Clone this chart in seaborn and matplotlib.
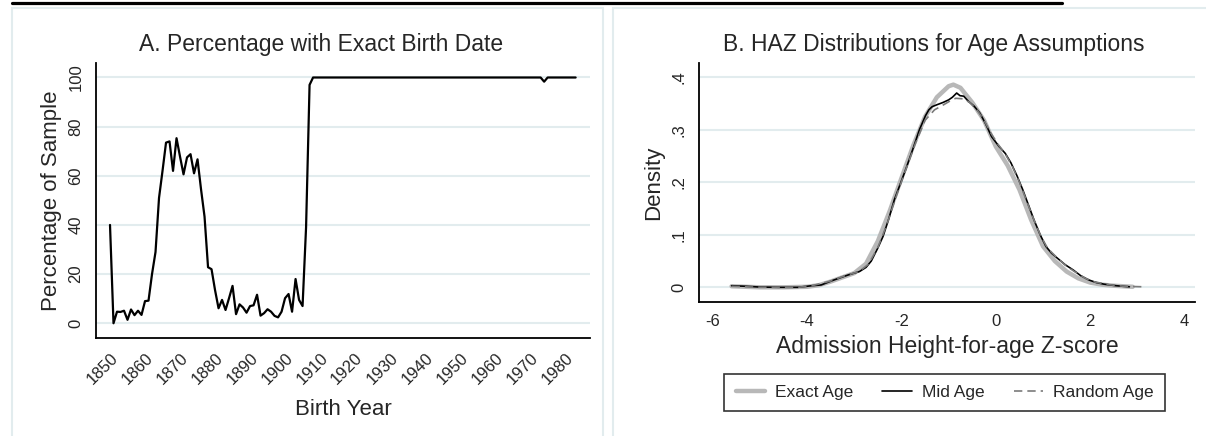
import numpy as np
import pandas as pd
import matplotlib
matplotlib.use("Agg")
import matplotlib.pyplot as plt
from matplotlib.lines import Line2D
from matplotlib.patches import Rectangle
import seaborn as sns

# Panel A: percentage with exact birth date, by birth year
years = list(range(1850, 1984))
pct_exact = [
    40, 0, 4.7, 4.6, 5.1, 1.4, 5.6, 3.3, 5.1, 3.4,
    9.0, 9.2, 20, 29, 51, 62, 73.5, 74, 62, 75.3,
    67.8, 60.6, 67.5, 68.8, 61, 66.7, 54.5, 43.4, 22.8, 22,
    13.5, 6.1, 9.5, 5.4, 10.2, 15.2, 3.7, 7.7, 6.4, 4.3,
    7.0, 7.3, 11.6, 3.1, 4.1, 5.7, 4.7, 3.0, 2.4, 4.7,
    10.2, 11.9, 4.7, 18, 9.5, 7.0, 39, 97, 100, 100,
    100, 100, 100, 100, 100, 100, 100, 100, 100, 100,
    100, 100, 100, 100, 100, 100, 100, 100, 100, 100,
    100, 100, 100, 100, 100, 100, 100, 100, 100, 100,
    100, 100, 100, 100, 100, 100, 100, 100, 100, 100,
    100, 100, 100, 100, 100, 100, 100, 100, 100, 100,
    100, 100, 100, 100, 100, 100, 100, 100, 100, 100,
    100, 100, 100, 100, 98.3, 100, 100, 100, 100, 100,
    100, 100, 100, 100,
]
year_ticks = list(range(1850, 1990, 10))
pct_ticks = [0, 20, 40, 60, 80, 100]

# Panel B: HAZ densities under three age assumptions
exact_z = [-5.6, -5.0, -4.5, -4.0, -3.75, -3.5, -3.25, -3.0, -2.75, -2.5,
           -2.25, -2.0, -1.75, -1.5, -1.25, -1.0, -0.9, -0.75, -0.5, -0.25,
           0.0, 0.25, 0.5, 0.75, 1.0, 1.25, 1.5, 1.75, 2.0, 2.25, 2.5, 2.9]
exact_d = [0.002, 0.0, 0.0, 0.001, 0.004, 0.011, 0.019, 0.027, 0.045, 0.088,
           0.145, 0.208, 0.27, 0.325, 0.362, 0.383, 0.386, 0.38, 0.352, 0.318,
           0.268, 0.232, 0.186, 0.128, 0.078, 0.050, 0.030, 0.017, 0.009, 0.005, 0.003, 0.001]

mid_z = [-5.6, -5.3, -5.0, -4.6, -4.2, -3.9, -3.7, -3.46, -3.13, -2.89,
         -2.75, -2.64, -2.5, -2.39, -2.27, -2.15, -2.02, -1.9, -1.74, -1.62,
         -1.49, -1.42, -1.35, -1.24, -1.12, -1.0, -0.92, -0.83, -0.76, -0.68,
         -0.58, -0.46, -0.34, -0.22, -0.09, 0.07, 0.2, 0.32, 0.45, 0.57,
         0.69, 0.81, 0.94, 1.06, 1.18, 1.31, 1.47, 1.64, 1.8, 1.97,
         2.13, 2.29, 2.55, 2.83]
mid_d = [0.003, 0.002, 0.0005, 0.0, 0.0, 0.003, 0.0045, 0.013, 0.0235, 0.030,
         0.038, 0.050, 0.075, 0.097, 0.13, 0.167, 0.198, 0.227, 0.268, 0.300,
         0.327, 0.338, 0.344, 0.348, 0.352, 0.357, 0.362, 0.370, 0.365, 0.364,
         0.354, 0.345, 0.332, 0.312, 0.287, 0.268, 0.255, 0.237, 0.212, 0.186,
         0.157, 0.128, 0.100, 0.078, 0.065, 0.055, 0.043, 0.033, 0.022, 0.014,
         0.009, 0.006, 0.003, 0.001]

random_z = [-5.6, -5.0, -4.2, -3.9, -3.5, -3.2, -2.9, -2.7, -2.5, -2.3,
            -2.1, -1.9, -1.7, -1.5, -1.3, -1.1, -0.95, -0.85, -0.7, -0.55,
            -0.4, -0.25, -0.1, 0.05, 0.2, 0.35, 0.5, 0.65, 0.8, 0.95,
            1.1, 1.3, 1.5, 1.7, 1.9, 2.1, 2.4, 2.7, 3.12]
random_d = [0.002, 0.0, 0.0, 0.003, 0.012, 0.022, 0.030, 0.044, 0.076, 0.122,
            0.176, 0.226, 0.275, 0.318, 0.338, 0.348, 0.356, 0.360, 0.359, 0.352,
            0.338, 0.318, 0.293, 0.272, 0.254, 0.230, 0.200, 0.165, 0.130, 0.098,
            0.074, 0.056, 0.040, 0.028, 0.017, 0.010, 0.005, 0.002, 0.001]
z_ticks = [-6, -4, -2, 0, 2, 4]
dens_ticks = [0, 0.1, 0.2, 0.3, 0.4]
dens_labels = ["0", ".1", ".2", ".3", ".4"]

sns.set_style("white")
plt.rcParams['font.family'] = ['Liberation Sans', 'DejaVu Sans']
plt.rcParams['axes.unicode_minus'] = False

W, H = 1206, 436
fig = plt.figure(figsize=(W / 100, H / 100), dpi=100)
grid_c = '#E2ECEE'


def px_axes(x0, y0, x1, y1):
    return fig.add_axes([x0 / W, 1 - y1 / H, (x1 - x0) / W, (y1 - y0) / H])


def style_axes(ax):
    for s in ['top', 'right']:
        ax.spines[s].set_visible(False)
    for s in ['left', 'bottom']:
        ax.spines[s].set_color('black')
        ax.spines[s].set_linewidth(1.3)
    ax.tick_params(direction='out', length=6, width=1.3, color='black',
                   labelsize=12, pad=3)
    ax.tick_params(axis='y', labelrotation=90)
    for lab in ax.get_yticklabels():
        lab.set_va('center')
    ax.yaxis.grid(True, color=grid_c, lw=1.5)
    ax.xaxis.grid(False)
    ax.set_axisbelow(True)


# graph region borders and the cut-off underline at the top
fig.add_artist(Rectangle((12 / W, -0.05), (603 - 12) / W, (436 - 8) / H + 0.05,
                         transform=fig.transFigure, fill=False, ec=grid_c, lw=1.5))
fig.add_artist(Rectangle((613 / W, -0.05), (1230 - 613) / W, (436 - 8) / H + 0.05,
                         transform=fig.transFigure, fill=False, ec=grid_c, lw=1.5))
fig.add_artist(Line2D([12 / W, 1062 / W], [1 - 3.5 / H, 1 - 3.5 / H],
                      transform=fig.transFigure, color='black', lw=2.3))

# ---- Panel A
ax1 = px_axes(96, 63, 590, 338)
sns.lineplot(x=years, y=pct_exact, ax=ax1, color='black', lw=1.6)
ax1.set_xlim(1846, 1987.1)
ax1.set_ylim(-6, 105.9)
ax1.set_xticks(year_ticks)
ax1.set_yticks(pct_ticks)
style_axes(ax1)
for lab in ax1.get_xticklabels():
    lab.set_rotation(45)
    lab.set_ha('right')
    lab.set_rotation_mode('anchor')
ax1.set_xlabel('Birth Year', fontsize=16, labelpad=8)
ax1.set_ylabel('Percentage of Sample', fontsize=16, labelpad=5)
fig.text(321 / W, 1 - 45 / H, 'A. Percentage with Exact Birth Date',
         ha='center', va='center', fontsize=16.5)

# ---- Panel B
ax2 = px_axes(699, 63, 1195, 301.7)
sns.lineplot(x=exact_z, y=exact_d, ax=ax2, color='#B8B8B8', lw=3.2,
             label='Exact Age', legend=False, sort=False)
sns.lineplot(x=mid_z, y=mid_d, ax=ax2, color='black', lw=1.2,
             label='Mid Age', legend=False, sort=False)
sns.lineplot(x=random_z, y=random_d, ax=ax2, color='#7A7A7A', lw=1.2,
             label='Random Age', legend=False, sort=False)
ax2.lines[-1].set_dashes((5, 3))
ax2.set_xlim(-6.29, 4.22)
ax2.set_ylim(-0.0274, 0.4272)
ax2.set_xticks(z_ticks)
ax2.set_yticks(dens_ticks)
ax2.set_yticklabels(dens_labels)
style_axes(ax2)
ax2.set_xlabel('Admission Height-for-age Z-score', fontsize=16.5, labelpad=4)
ax2.set_ylabel('Density', fontsize=16, labelpad=5)
fig.text(934 / W, 1 - 45 / H, 'B. HAZ Distributions for Age Assumptions',
         ha='center', va='center', fontsize=16.5)

handles = [Line2D([], [], color='#B8B8B8', lw=3.2),
           Line2D([], [], color='black', lw=1.2),
           Line2D([], [], color='#7A7A7A', lw=1.2, dashes=(5, 3))]
leg = fig.legend(handles, ['Exact Age', 'Mid Age', 'Random Age'],
                 loc='center', bbox_to_anchor=(944.5 / W, 1 - 392.5 / H),
                 ncol=3, frameon=True, fancybox=False, edgecolor='black',
                 fontsize=12.5, handlelength=1.7, columnspacing=1.7,
                 handletextpad=0.55, borderpad=0.65, borderaxespad=0)
leg.get_frame().set_linewidth(1.2)

fig.savefig('out.png', dpi=100)
